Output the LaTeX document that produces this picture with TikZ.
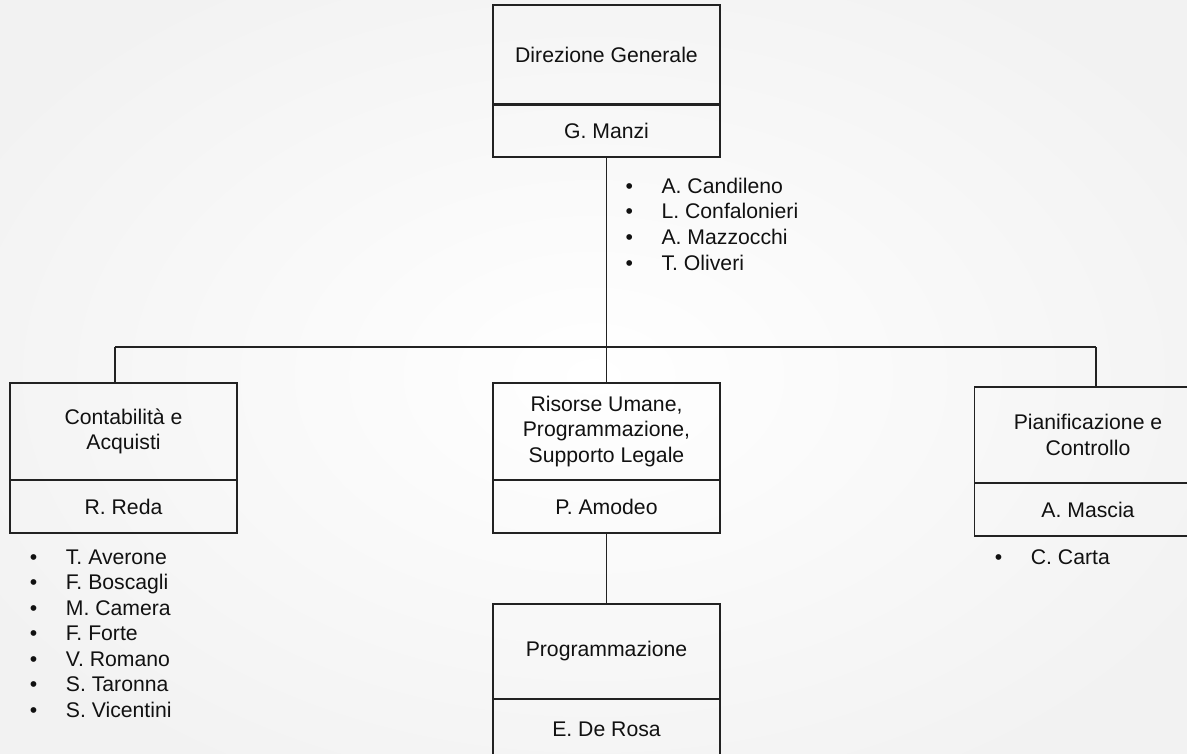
\documentclass[tikz,border=0pt]{standalone}
\usepackage{fontspec}
\setmainfont{Liberation Sans}
\definecolor{linec}{HTML}{222222}
\definecolor{textc}{HTML}{111111}
\newcommand{\bfnt}{\fontsize{15.9pt}{19.2pt}\selectfont}
\newcommand{\bul}{\makebox[27pt][l]{•}}
\begin{document}
\begin{tikzpicture}[x=0.75pt,y=-0.75pt,
  conn/.style={draw=linec,line width=1pt},
  box/.style={draw=linec,line width=1pt,minimum width=170.25pt,align=center,
    inner sep=0pt,font=\bfnt,text=textc},
  upbox/.style={box,minimum height=#1},
  listitem/.style={anchor=base west,inner sep=0pt,font=\bfnt,text=textc}]
\clip (0,0) rectangle (1187,753);
\fill[white] (0,0) rectangle (1187,753);
\shade[inner color=white,outer color=black!5] (-100,-80) rectangle (1287,833);
\useasboundingbox (0,0) rectangle (1187,753);

% top box
\node[upbox=74.25pt] (dg) at (606.5,54.5) {Direzione Generale};
\node[upbox=39.75pt] (dgn) at (606.5,130.5) {G. Manzi};
\draw[draw=linec,line width=1.8pt] (dg.south west) -- (dg.south east);

% second level
\node[upbox=72.75pt] (ca) at (123.5,431.5) {Contabilità e\\Acquisti};
\node[upbox=39.75pt] (can) at (123.5,506.5) {R. Reda};
\node[upbox=72.75pt] (ru) at (606.5,431.5) {Risorse Umane,\\Programmazione,\\Supporto Legale};
\node[upbox=39.75pt] (run) at (606.5,506.5) {P. Amodeo};
\node[upbox=72pt] (pc) at (1088,435) {Pianificazione e\\Controllo};
\node[upbox=39.75pt] (pcn) at (1088,509.5) {A. Mascia};

% third level
\node[upbox=71.25pt] (pr) at (606.5,651.5) {Programmazione};
\node[upbox=45.75pt] (prn) at (606.5,729.5) {E. De Rosa};

% connectors
\coordinate (busy) at (0,347);
\coordinate (busM) at (dgn.south |- busy);
\coordinate (busL) at (115,347);
\coordinate (busR) at (1096,347);
\draw[conn] (dgn.south) -- (busM);
\draw[conn] (busL) -- (busR);
\draw[conn] (busL) -- (busL |- ca.north);
\draw[conn] (busM) -- (ru.north);
\draw[conn] (busR) -- (busR |- pc.north);
\draw[conn] (run.south) -- (pr.north);

% lists
\foreach \n [count=\i] in {A. Candileno,L. Confalonieri,A. Mazzocchi,T. Oliveri}
  \node[listitem] (lt\i) at (625.3,{193.3+25.6*(\i-1)}) {\bul\n};
\foreach \n [count=\i] in {T. Averone,F. Boscagli,M. Camera,F. Forte,V. Romano,S. Taronna,S. Vicentini}
  \node[listitem] (ll\i) at (29.6,{564+25.5*(\i-1)}) {\bul\n};
\node[listitem] (lr1) at (994.6,564) {\bul C. Carta};
\end{tikzpicture}
\end{document}
